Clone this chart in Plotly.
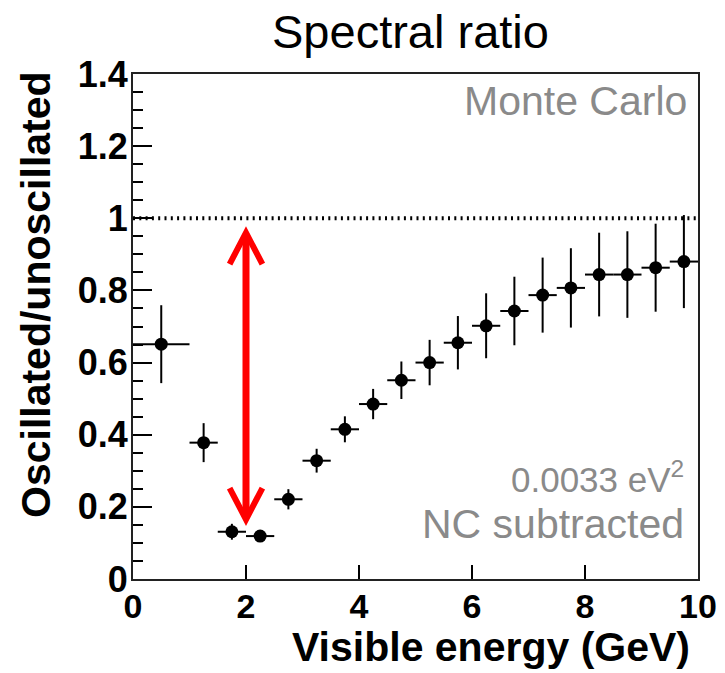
import plotly.graph_objects as go

# ---- data ----
energy = [0.5, 1.25, 1.75, 2.25, 2.75, 3.25, 3.75, 4.25, 4.75, 5.25,
          5.75, 6.25, 6.75, 7.25, 7.75, 8.25, 8.75, 9.25, 9.75]
energy_halfwidth = [0.5] + [0.25] * 18
ratio = [0.651, 0.378, 0.131, 0.119, 0.221, 0.328, 0.415, 0.485, 0.551, 0.600,
         0.655, 0.702, 0.743, 0.787, 0.807, 0.844, 0.844, 0.863, 0.880]
ratio_err = [0.108, 0.054, 0.022, 0.012, 0.028, 0.033, 0.036, 0.042, 0.052, 0.063,
             0.074, 0.090, 0.095, 0.104, 0.110, 0.116, 0.120, 0.122, 0.129]

y_tickvals = [0, 0.2, 0.4, 0.6, 0.8, 1.0, 1.2, 1.4]
y_ticktext = ["0", "0.2", "0.4", "0.6", "0.8", "1", "1.2", "1.4"]
x_tickvals = [0, 2, 4, 6, 8, 10]
x_ticktext = ["0", "2", "4", "6", "8", "10"]

REF_LEVEL = 1.0
ARROW_X = 2.0
ARROW_Y_LOW = 0.165
ARROW_Y_HIGH = 0.960

W, H = 725, 673
ML, MR, MT, MB = 133, 27, 74, 94
PW, PH = W - ML - MR, H - MT - MB


def px_to_paper_x(px):
    return (px - ML) / PW


def px_to_paper_y(py):
    return (H - MB - py) / PH


fig = go.Figure()

fig.add_trace(go.Scatter(
    x=energy, y=ratio, mode="markers",
    marker=dict(color="black", size=13, symbol="circle"),
    error_y=dict(type="data", array=ratio_err, color="black", thickness=2, width=0),
    error_x=dict(type="data", array=energy_halfwidth, color="black", thickness=2, width=0),
    showlegend=False, hoverinfo="skip",
))

# dotted reference line at 1
fig.add_shape(type="line", xref="x", yref="y", x0=0, x1=10, y0=REF_LEVEL, y1=REF_LEVEL,
              line=dict(color="black", width=4, dash="2px,4.3px"))

# red double arrow
red = "#ff0000"
hw = 0.29      # chevron half-width in GeV
hh = 0.087     # chevron height in ratio units
fig.add_shape(type="line", xref="x", yref="y", x0=ARROW_X, x1=ARROW_X,
              y0=ARROW_Y_LOW + 0.01, y1=ARROW_Y_HIGH - 0.01,
              line=dict(color=red, width=7))
fig.add_shape(type="path", xref="x", yref="y",
              path=f"M {ARROW_X - hw} {ARROW_Y_HIGH - hh} L {ARROW_X} {ARROW_Y_HIGH} L {ARROW_X + hw} {ARROW_Y_HIGH - hh}",
              line=dict(color=red, width=6))
fig.add_shape(type="path", xref="x", yref="y",
              path=f"M {ARROW_X - hw} {ARROW_Y_LOW + hh} L {ARROW_X} {ARROW_Y_LOW} L {ARROW_X + hw} {ARROW_Y_LOW + hh}",
              line=dict(color=red, width=6))

gray = "#8a8a8a"
annots = [
    dict(text="Spectral ratio", x=px_to_paper_x(410), y=px_to_paper_y(32),
         xanchor="center", yanchor="middle",
         font=dict(family="Liberation Sans, Arial", size=47, color="black")),
    dict(text="Monte Carlo", x=px_to_paper_x(689), y=px_to_paper_y(101),
         xanchor="right", yanchor="middle",
         font=dict(family="Liberation Sans, Arial", size=41, color=gray)),
    dict(text="0.0033 eV<sup>2</sup>", x=px_to_paper_x(686), y=px_to_paper_y(477),
         xanchor="right", yanchor="middle",
         font=dict(family="Liberation Sans, Arial", size=35, color=gray)),
    dict(text="NC subtracted", x=px_to_paper_x(686), y=px_to_paper_y(524),
         xanchor="right", yanchor="middle",
         font=dict(family="Liberation Sans, Arial", size=41, color=gray)),
    dict(text="<b>Visible energy (GeV)</b>", x=px_to_paper_x(692), y=px_to_paper_y(647),
         xanchor="right", yanchor="middle",
         font=dict(family="Liberation Sans, Arial", size=41, color="black")),
    dict(text="<b>Oscillated/unoscillated</b>", x=px_to_paper_x(36), y=px_to_paper_y(295),
         xanchor="center", yanchor="middle", textangle=-90,
         font=dict(family="Liberation Sans, Arial", size=41, color="black")),
]
for a in annots:
    fig.add_annotation(xref="paper", yref="paper", showarrow=False, **a)

fig.update_layout(
    width=W, height=H,
    margin=dict(l=ML, r=MR, t=MT, b=MB, autoexpand=False),
    paper_bgcolor="white", plot_bgcolor="white",
    font=dict(family="Liberation Sans, Arial", color="black"),
)
fig.update_xaxes(
    range=[0, 10], tickvals=x_tickvals, ticktext=x_ticktext, automargin=False,
    ticks="inside", ticklen=14, tickwidth=2, tickcolor="black", ticklabelstandoff=-4,
    showline=True, linewidth=2, linecolor="#222", mirror=True,
    showgrid=False, zeroline=False,
    tickfont=dict(family="Liberation Sans, Arial", size=34, color="black", weight="bold"),
)
fig.update_yaxes(
    range=[0, 1.4], tickvals=y_tickvals, ticktext=y_ticktext, automargin=False,
    ticks="inside", ticklen=19, tickwidth=2, tickcolor="black", ticklabelstandoff=-4,
    minor=dict(dtick=0.05, ticks="inside", ticklen=10, tickwidth=2, tickcolor="black", showgrid=False),
    showline=True, linewidth=2, linecolor="#222", mirror=True,
    showgrid=False, zeroline=False,
    tickfont=dict(family="Liberation Sans, Arial", size=36, color="black", weight="bold"),
)

fig.write_html("out.html", post_script="document.body.style.margin='0';",
               config={"displayModeBar": False})
